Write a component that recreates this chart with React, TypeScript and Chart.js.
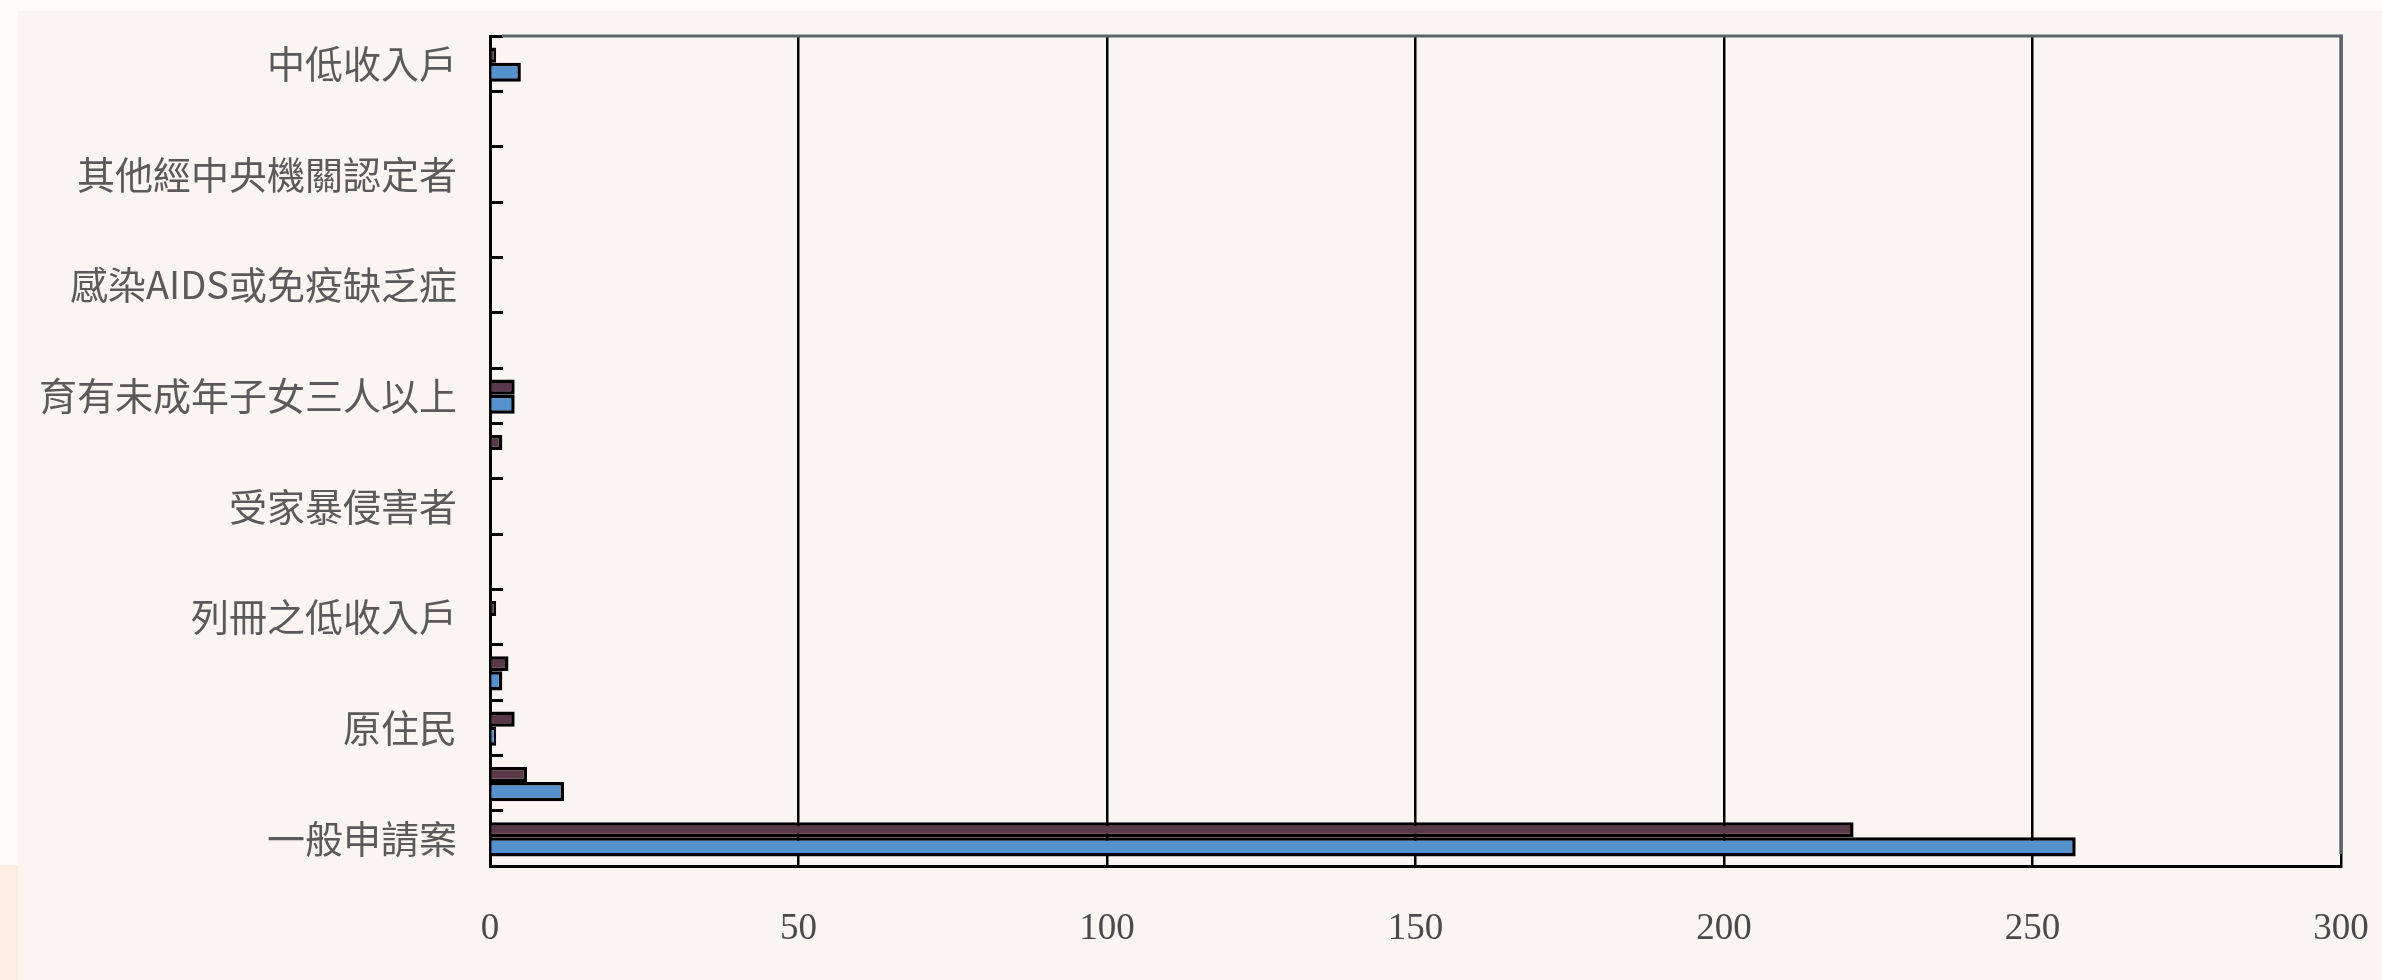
import React, { useEffect, useRef } from "react";
import { Chart, registerables } from "chart.js";

Chart.register(...registerables);

// Categories, top to bottom (only every other label is printed in the source chart)
const categories: string[] = [
  "中低收入戶",
  "於安置教養機構結束安置者",
  "其他經中央機關認定者",
  "遊民",
  "感染AIDS或免疫缺乏症",
  "災民",
  "育有未成年子女三人以上",
  "特殊境遇家庭",
  "受家暴侵害者",
  "單親家庭",
  "列冊之低收入戶",
  "六十五歲以上老人",
  "原住民",
  "身心障礙者",
  "一般申請案",
];

const seriesDarkName = "數列1";
const seriesDark: number[] = [1, 0, 0, 0, 0, 0, 4, 2, 0, 0, 1, 3, 4, 6, 221];

const seriesBlueName = "數列2";
const seriesBlue: number[] = [5, 0, 0, 0, 0, 0, 4, 0, 0, 0, 0, 2, 1, 12, 257];

const xTickValues: number[] = [0, 50, 100, 150, 200, 250, 300];

const framePlugin = {
  id: "frameLines",
  beforeDatasetsDraw(chart: any) {
    const { ctx, chartArea: a } = chart;
    ctx.save();
    ctx.strokeStyle = "#5a666b";
    ctx.lineWidth = 3;
    ctx.beginPath();
    ctx.moveTo(a.left + 12, a.top);
    ctx.lineTo(a.right + 2, a.top);
    ctx.stroke();
    ctx.lineWidth = 3.5;
    ctx.beginPath();
    ctx.moveTo(a.right, a.top);
    ctx.lineTo(a.right, a.bottom - 12);
    ctx.stroke();
    ctx.restore();
  },
};

const zeroPadding = (scale: any) => {
  scale.paddingLeft = 0;
  scale.paddingRight = 0;
  scale.paddingTop = 0;
  scale.paddingBottom = 0;
};

export default function App() {
  const canvasRef = useRef<HTMLCanvasElement | null>(null);

  useEffect(() => {
    if (!canvasRef.current) return;
    const chart = new Chart(canvasRef.current, {
      type: "bar",
      data: {
        labels: categories,
        datasets: [
          {
            label: seriesDarkName,
            data: seriesDark,
            backgroundColor: "#5a3848",
            borderColor: "#000000",
            borderWidth: 3.5,
            categoryPercentage: 0.62,
            barPercentage: 0.88,
          },
          {
            label: seriesBlueName,
            data: seriesBlue,
            backgroundColor: "#5591cc",
            borderColor: "#000000",
            borderWidth: 3.5,
            categoryPercentage: 0.62,
            barPercentage: 1.12,
          },
        ],
      },
      options: {
        indexAxis: "y",
        animation: false,
        responsive: false,
        devicePixelRatio: 1,
        layout: { padding: { left: 0, top: 36, right: 41, bottom: 0 } },
        plugins: {
          legend: { display: false },
          tooltip: { enabled: false },
        },
        scales: {
          x: {
            type: "linear",
            min: xTickValues[0],
            max: xTickValues[xTickValues.length - 1],
            ticks: {
              stepSize: xTickValues[1] - xTickValues[0],
              padding: 41,
              color: "#4a4a4a",
              font: { family: "'Liberation Serif', 'DejaVu Serif', serif", size: 37 },
            },
            grid: { color: "#000000", lineWidth: 2.5, drawTicks: false },
            border: { display: true, color: "#000000", width: 3 },
            afterFit: (scale: any) => {
              scale.height = 114;
              zeroPadding(scale);
            },
          },
          y: {
            type: "category",
            ticks: {
              autoSkip: false,
              padding: 46,
              color: "#5a5a5a",
              font: { family: "'Noto Sans CJK TC', 'Noto Sans CJK SC', sans-serif", size: 38 },
              callback: (_v: any, index: number) => (index % 2 === 0 ? categories[index] : ""),
            },
            grid: {
              display: true,
              drawOnChartArea: false,
              drawTicks: true,
              tickLength: -13,
              color: "#000000",
              lineWidth: 3,
              offset: true,
            },
            border: { display: true, color: "#000000", width: 3 },
            afterFit: (scale: any) => {
              scale.width = 490;
              zeroPadding(scale);
            },
          },
        },
      },
      plugins: [framePlugin],
    });
    return () => chart.destroy();
  }, []);

  return (
    <div
      style={{
        position: "fixed",
        left: 0,
        top: 0,
        width: 2382,
        height: 980,
        background: "#fffcf7",
        overflow: "hidden",
      }}
    >
      <div style={{ position: "absolute", left: 18, top: 11, right: 0, bottom: 0, background: "#f9f5f1" }} />
      <div style={{ position: "absolute", left: 0, top: 865, width: 18, bottom: 0, background: "#fbede4" }} />
      <canvas
        ref={canvasRef}
        width={2382}
        height={980}
        style={{ position: "absolute", left: 0, top: 0, width: 2382, height: 980 }}
      />
    </div>
  );
}
